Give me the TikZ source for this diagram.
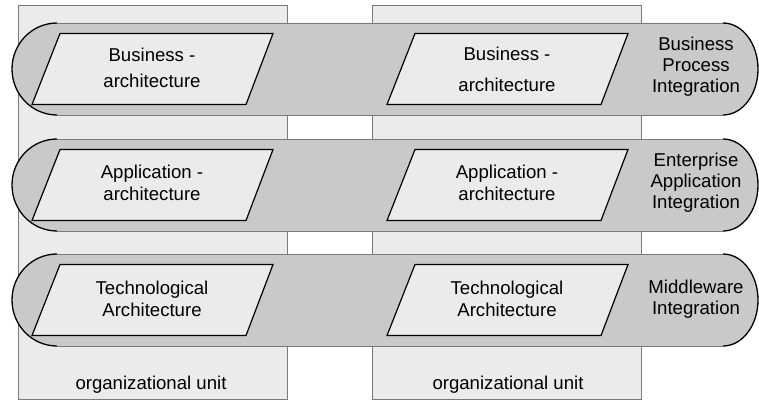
\documentclass[tikz,border=0pt]{standalone}
\usepackage{fontspec}
\setmainfont{Liberation Sans}
\usepackage{tikz}
\usetikzlibrary{positioning}
\usepackage{xcolor}
\definecolor{unitfill}{HTML}{EBEBEB}
\definecolor{bandfill}{HTML}{C9C9C9}
\definecolor{edgegray}{HTML}{7A7A7A}
% one integration band, #1 = centre height
\newcommand\band[1]{
  \fill[bandfill] (57,#1+46)--(723,#1+46) arc[start angle=90, end angle=-90, x radius=35, y radius=46]
    --(57,#1-46) arc[start angle=270, end angle=90, x radius=45, y radius=46]--cycle;
  \draw[edgegray, line width=0.9pt] (57,#1+46)--(723,#1+46);
  \draw[edgegray, line width=0.9pt] (57,#1-46)--(723,#1-46);
  \draw[black, line width=1.3pt] (723,#1+46) arc[start angle=90, end angle=-90, x radius=35, y radius=46];
  \draw[black, line width=1.3pt] (57,#1-46) arc[start angle=270, end angle=90, x radius=45, y radius=46];
}
% one slanted architecture box, #1 = left bottom x, #2 = centre height
\newcommand\archbox[2]{
  \filldraw[fill=unitfill, draw=black, line width=1.2pt] (#1,#2-35.5)--(#1+214,#2-35.5)--(#1+241,#2+35.5)--(#1+28,#2+35.5)--cycle;
}

\begin{document}
\begin{tikzpicture}[x=1pt, y=1pt, font=\fontsize{18.6}{22}\selectfont,
    lbl/.style={align=center, inner sep=0pt},
    side/.style={align=center, inner sep=0pt, font=\fontsize{18.6}{21}\selectfont}]
				    		\useasboundingbox (0,0) rectangle (759,400);
				    		\filldraw[fill=unitfill, draw=edgegray, line width=0.9pt] (18,1) rectangle (287,395);
				    		\filldraw[fill=unitfill, draw=edgegray, line width=0.9pt] (372,1) rectangle (641,395);
				    		\band{331}
				    		\band{215}
				    		\band{100}
				    		\archbox{32}{331}
				    		\archbox{387}{331}
				    		\archbox{32}{215}
				    		\archbox{387}{215}
				    		\archbox{32}{100}
				    		\archbox{387}{100}
				    		\node[lbl] (busL) at (152,332) {Business -\\[4pt]architecture};
				    		\node[lbl] (busR) at (507,331) {Business -\\[9pt]architecture};
				    		\node[lbl] (appL) at (152,217) {Application -\\architecture};
				    		\node[lbl] (appR) at (507,217) {Application -\\architecture};
				    		\node[lbl] (techL) at (152,101) {Technological\\Architecture};
				    		\node[lbl] (techR) at (507,101) {Technological\\Architecture};
				    		\node[side] (bpi) at (696,333) {Business\\Process\\Integration};
				    		\node[side] (eai) at (696,217) {Enterprise\\Application\\Integration};
				    		\node[side] (mwi) at (696,101) {Middleware\\Integration};
				    		\node[lbl] (unitL) at (151,15) {organizational unit};
				    		\node[lbl] (unitR) at (508,15) {organizational unit};
				    	\end{tikzpicture}
\end{document}
